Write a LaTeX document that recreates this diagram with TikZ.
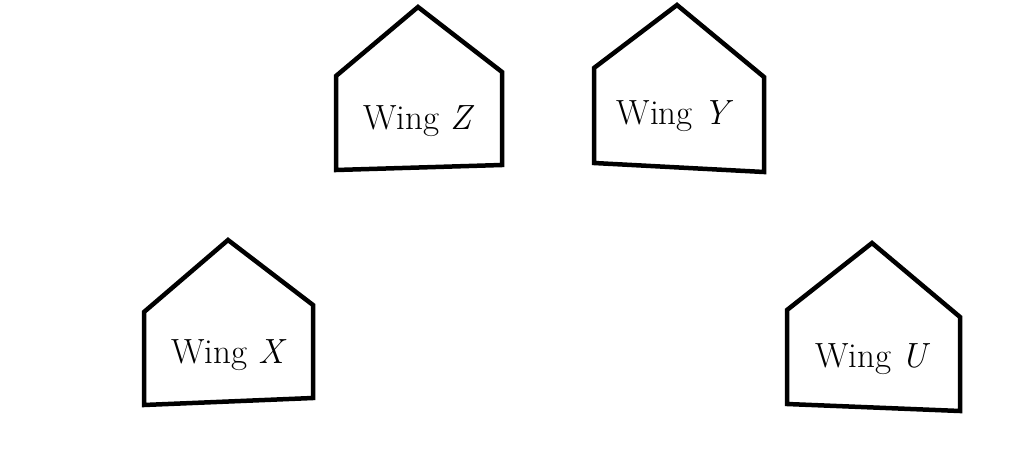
\documentclass[tikz,border=0pt]{standalone}
\usepackage{fontspec}
\begin{document}
\begin{tikzpicture}[x=1pt,y=-1pt,
  house/.style={draw=black,line width=4.5pt,line join=miter,fill=white},
  lbl/.style={font=\fontsize{35}{40}\selectfont,inner sep=0pt}]
\useasboundingbox[fill=white] (0,0) rectangle (1020,476);
% Wing Z
\draw[house] (336,170) -- (336,76) -- (418,7) -- (502,72) -- (502,165) -- cycle;
\node[lbl] (z) at (419,121) {Wing \textit{Z}};
% Wing Y
\draw[house] (594,163) -- (594,68) -- (677,5) -- (764,77) -- (764,172) -- cycle;
\node[lbl] (y) at (675,116) {Wing \textit{Y}};
% Wing X
\draw[house] (144,405) -- (144,312) -- (228,240) -- (313,305) -- (313,398) -- cycle;
\node[lbl] (x) at (229,355) {Wing \textit{X}};
% Wing U
\draw[house] (787,404) -- (787,310) -- (872,243) -- (960,317) -- (960,411) -- cycle;
\node[lbl] (u) at (873,359) {Wing \textit{U}};
\end{tikzpicture}
\end{document}
